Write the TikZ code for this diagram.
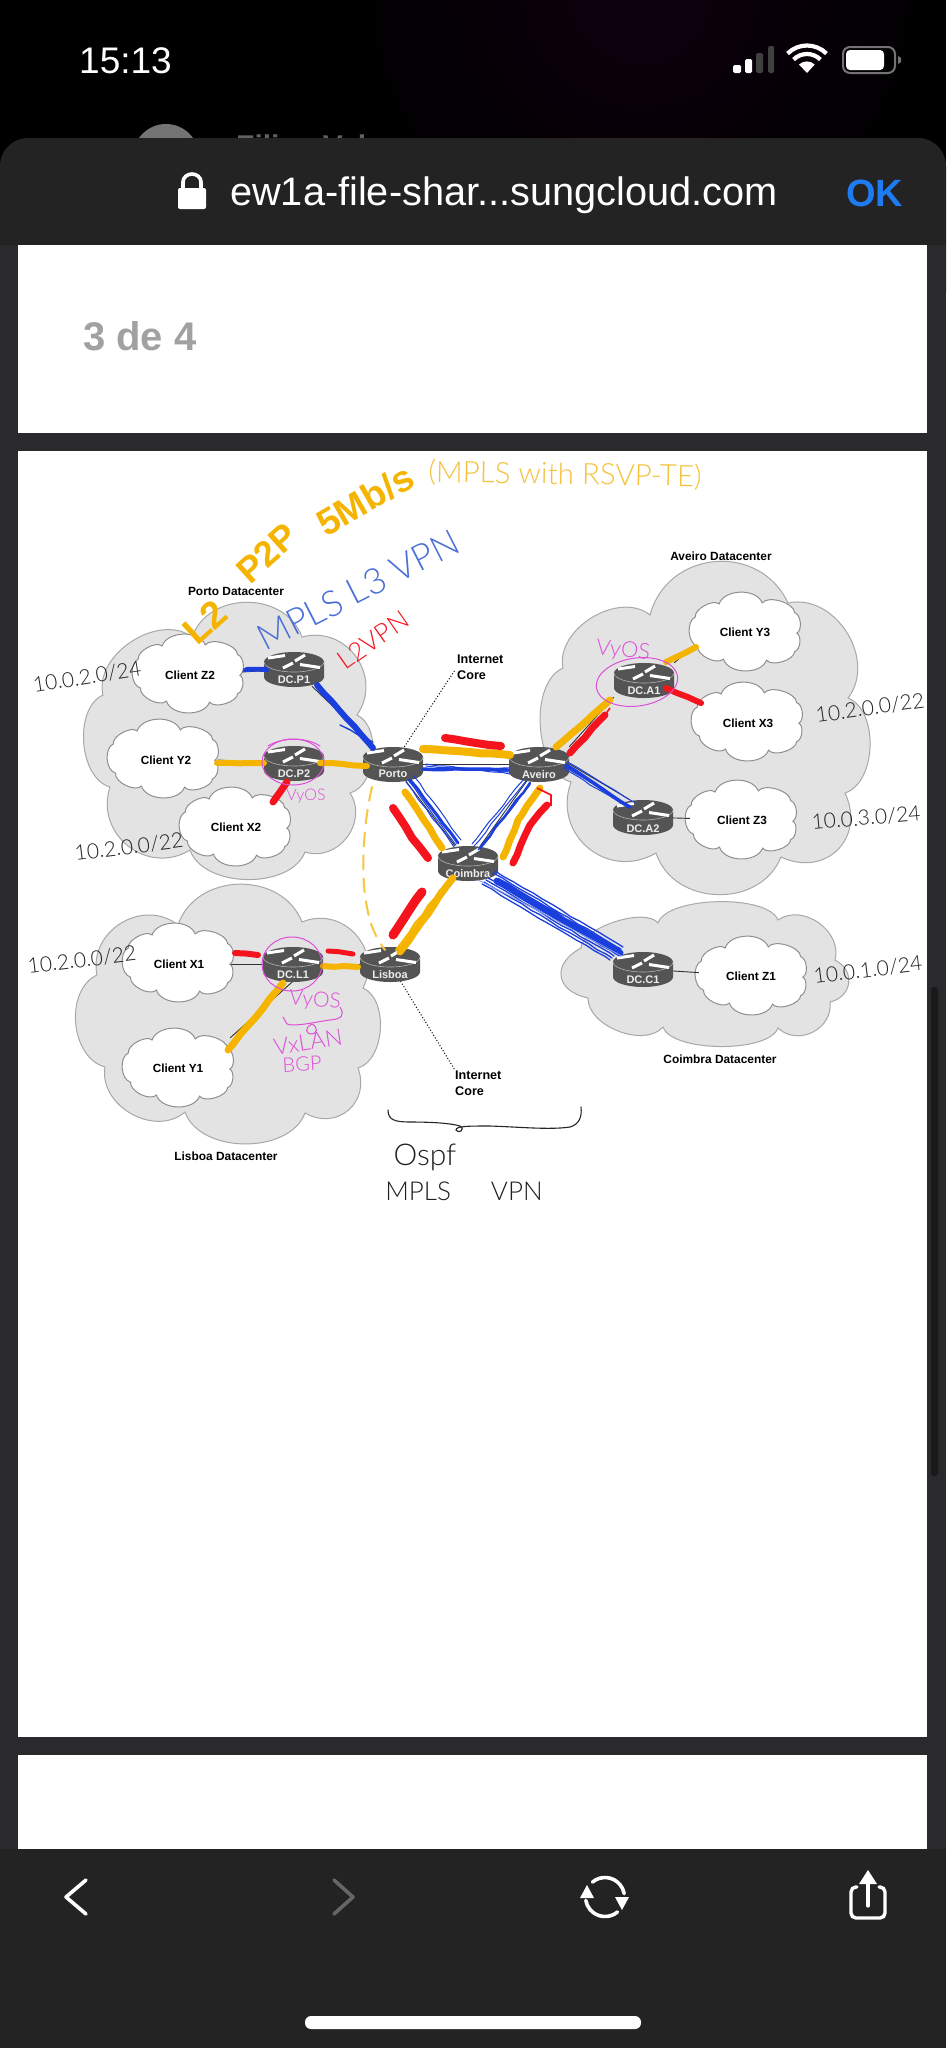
\documentclass[tikz,border=0pt]{standalone}
\usepackage{fontspec}
\setmainfont{Liberation Sans}
\newfontfamily\handfont{Lato Light}
\usetikzlibrary{decorations.pathmorphing,calc}
\definecolor{sheetbody}{HTML}{2A2A2C}
\definecolor{toolbarc}{HTML}{232324}
\definecolor{cloudfill}{HTML}{E3E3E3}
\definecolor{cloudedge}{HTML}{A8A8A8}
\definecolor{rtrdark}{HTML}{545454}
\definecolor{hlorange}{HTML}{F4B400}
\definecolor{hlred}{HTML}{F5141E}
\definecolor{hlblue}{HTML}{1B3FDC}
\definecolor{mag}{HTML}{DD4FD8}
\definecolor{txtorange}{HTML}{F6C23E}
\definecolor{txtblue}{HTML}{4A6FD8}
\definecolor{iosblue}{HTML}{1E7CF0}
\tikzset{
  lb/.style={bend left=70,looseness=#1},
  bigcloud/.style={fill=cloudfill,draw=cloudedge,line width=1},
  smallcloud/.style={fill=white,draw=cloudedge!85!black,line width=1},
  clientnode/.style={font=\fontsize{11.8}{14}\selectfont\bfseries,minimum width=104,minimum height=60,inner sep=0},
  dclabel/.style={font=\fontsize{11.9}{14}\selectfont\bfseries,inner sep=0},
  inetlabel/.style={font=\fontsize{12.6}{16.5}\selectfont\bfseries,align=left,anchor=west,inner sep=0},
  rnode/.style={minimum width=60,minimum height=34,inner sep=0},
  rlabel/.style={font=\fontsize{11}{12}\selectfont\bfseries,text=white!93!black,inner sep=0},
  thinlink/.style={draw=black!80,line width=.9},
  dottedlink/.style={draw=black,line width=1,dotted},
  wob/.style={decorate,decoration={random steps,segment length=11,amplitude=.7},line cap=round,line join=round},
  ost/.style={draw=hlorange,line width=#1,wob},
  rst/.style={draw=hlred,line width=#1,wob},
  bst/.style={draw=hlblue,line width=#1,wob},
  hand/.style={font=\handfont\fontsize{#1}{#1}\selectfont,inner sep=0},
  ip/.style={hand=21,text=black!88},
  magtxt/.style={hand=#1,text=mag},
  magline/.style={draw=mag,line width=1,line cap=round},
  iconw/.style={draw=white,line width=3.6,line cap=round,line join=round},
  clientcloud/.pic={
    \path[smallcloud,scale=1.08] (-24,-25) to[lb=.95] (16,-26) to[lb=.75] (46,-17) to[lb=.8] (48,2)
      to[lb=.8] (46,19) to[lb=.75] (20,27) to[lb=.95] (-20,26) to[lb=.8] (-44,14)
      to[lb=.9] (-46,-13) to[lb=.75] (-24,-25) -- cycle;
  },
  routerpic/.pic={
    \fill[rtrdark] (-30,-7) -- (-30,8) arc[start angle=180,end angle=0,x radius=30,y radius=10]
      -- (30,-7) arc[start angle=0,end angle=-180,x radius=30,y radius=10] -- cycle;
    \draw[white!70!black,line width=.6] (-30,-7) arc[start angle=180,end angle=0,x radius=30,y radius=10];
    \draw[white,line width=3] (-26,-11) -- (-9,-13.5);
    \draw[white,line width=3] (1,-8) -- (11,-14);
    \draw[white,line width=3] (-11,-1) -- (-1,-6);
    \draw[white,line width=3] (6,-4.5) -- (26,-1.5);
  }
}
\pgfmathsetseed{7}
\begin{document}
\begin{tikzpicture}[x=1pt,y=-1pt]
\useasboundingbox (0,0) rectangle (946,2048);
% --- phone chrome
\fill[black] (0,0) rectangle (946,2048);
\begin{scope}
  \clip (0,0) rectangle (946,138);
  \shade[inner color=black!80!violet!55!black,outer color=black] (640,-10) circle[radius=300];
  \fill[white!45!black] (166,157) circle[radius=33];
  \node[anchor=base west,inner sep=0,text=white!38!black,font=\fontsize{30}{30}\selectfont\bfseries] (peer) at (236,156) {Filipe Vale};
\end{scope}
\fill[toolbarc,rounded corners=28] (0,320) -- (0,138) -- (946,138) -- (946,320) -- cycle;
\fill[sheetbody] (0,245) rectangle (946,1849);
\fill[toolbarc] (0,1849) rectangle (946,2048);
\fill[black!90!white,rounded corners=3] (931,987) rectangle (938,1476);
\fill[white] (18,245) rectangle (927,433);
\fill[white] (18,451) rectangle (927,1737);
\fill[white] (18,1755) rectangle (927,1849);
\node[anchor=base west,inner sep=0,text=white,font=\fontsize{37}{37}\selectfont] (clock) at (79,73.5) {15:13};
\fill[white,rounded corners=1.5] (733,65) rectangle (741,73);
\fill[white,rounded corners=1.5] (745,59) rectangle (752,73);
\fill[white!25!black,rounded corners=1.5] (756,53) rectangle (763,73);
\fill[white!25!black,rounded corners=1.5] (768,46) rectangle (774,73);
\fill[white] (807,73) -- (799,64.5) arc[start angle=-133,end angle=-47,radius=11.5] -- cycle;
\draw[white,line width=4.2] ($(807,73)+(-135:19)$) arc[start angle=-135,end angle=-45,radius=19];
\draw[white,line width=4.2] ($(807,73)+(-135:27.5)$) arc[start angle=-135,end angle=-45,radius=27.5];
\draw[white!45!black,line width=2,rounded corners=7] (843,47) rectangle (895,73);
\fill[white,rounded corners=4] (846,50) rectangle (884,70);
\fill[white!45!black] (898,56) -- (901,58) -- (901,62) -- (898,64) -- cycle;
\fill[white,rounded corners=2] (178,188) rectangle (206,209);
\draw[white,line width=3.6] (183,190) -- (183,182) arc[start angle=180,end angle=360,x radius=9,y radius=8] -- (201,190);
\node[anchor=base west,inner sep=0,text=white,font=\fontsize{39.7}{38}\selectfont] (url) at (230,205) {ew1a-file-shar...sungcloud.com};
\node[anchor=base west,inner sep=0,text=iosblue,font=\fontsize{38}{39}\selectfont\bfseries] (okbtn) at (846,206) {OK};
\node[anchor=base west,inner sep=0,text=white!63!black,font=\fontsize{40}{39}\selectfont\bfseries] (pageno) at (83,350) {3 de 4};
% toolbar icons
\draw[iconw] (86,1880) -- (66,1897) -- (86,1914);
\draw[iconw,draw=white!40!black] (334,1880) -- (353,1897) -- (334,1914);
\draw[iconw] ($(605,1897)+(-130:19.5)$) arc[start angle=-130,end angle=-10,radius=19.5];
\draw[iconw] ($(605,1897)+(50:19.5)$) arc[start angle=50,end angle=170,radius=19.5];
\fill[white] (580,1898) -- (594,1898) -- (587,1885) -- cycle;
\fill[white] (615,1897) -- (629,1897) -- (622,1910) -- cycle;
\draw[white,line width=3.4,rounded corners=5,line cap=round] (857,1887) -- (851,1887) -- (851,1918) -- (885,1918) -- (885,1887) -- (879,1887);
\draw[white,line width=3.2,line cap=round] (868,1878) -- (868,1906);
\fill[white] (859,1884) -- (868,1870) -- (877,1884) -- cycle;
\fill[white,rounded corners=6] (305,2016) rectangle (641,2029);
% --- datacenter clouds
\path[bigcloud] (192,637) to[lb=1.15] (302,637) to[lb=1.25] (357,715) to[lb=.9] (350,793)
  to[lb=1.2] (305,852) to[lb=.9] (190,850) to[lb=1.25] (110,787) to[lb=.9] (103,695) to[lb=1] (192,637) -- cycle;
\path[bigcloud] (650,615) to[lb=1.25] (788,603) to[lb=1.1] (848,698) to[lb=.9] (845,793)
  to[lb=1.4] (781,857) to[lb=1.15] (656,853) to[lb=1.3] (571,782) to[lb=.85] (563,668) to[lb=1] (650,615) -- cycle;
\path[bigcloud] (178,925) to[lb=1.15] (302,922) to[lb=1.25] (363,988) to[lb=.9] (358,1068)
  to[lb=1.35] (305,1113) to[lb=.95] (185,1112) to[lb=1.1] (105,1067) to[lb=1] (97,975) to[lb=1.2] (178,925) -- cycle;
\path[bigcloud] (658,923) to[lb=.6] (778,920) to[lb=1.1] (835,960) to[lb=1.4] (830,1002)
  to[lb=1.2] (778,1028) to[lb=.6] (663,1027) to[lb=.9] (588,998) to[lb=1.7] (581,948) to[lb=.65] (658,923) -- cycle;
% --- client clouds
\pic at (188,673) {clientcloud};
\pic at (163,758) {clientcloud};
\pic at (235,826) {clientcloud};
\pic at (745,631) {clientcloud};
\pic at (747,721) {clientcloud};
\pic at (741,819) {clientcloud};
\pic at (751,975) {clientcloud};
\pic at (178,962) {clientcloud};
\pic at (178,1067) {clientcloud};
\node[clientnode] (cz2) at (190,675) {Client Z2};
\node[clientnode] (cy2) at (166,760) {Client Y2};
\node[clientnode] (cx2) at (236,827) {Client X2};
\node[clientnode] (cy3) at (745,632) {Client Y3};
\node[clientnode] (cx3) at (748,723) {Client X3};
\node[clientnode] (cz3) at (742,820) {Client Z3};
\node[clientnode] (cz1) at (751,976) {Client Z1};
\node[clientnode] (cx1) at (179,964) {Client X1};
\node[clientnode] (cy1) at (178,1068) {Client Y1};
% --- datacenter labels
\node[dclabel] (lblp) at (236,591) {Porto Datacenter};
\node[dclabel] (lbla) at (721,556) {Aveiro Datacenter};
\node[dclabel] (lbll) at (226,1156) {Lisboa Datacenter};
\node[dclabel] (lblc) at (720,1059) {Coimbra Datacenter};
\node[inetlabel] (inet1) at (457,667) {Internet\\Core};
\node[inetlabel] (inet2) at (455,1083) {Internet\\Core};
% --- router anchors
\node[rnode] (dcp1) at (294,669) {};
\node[rnode] (dcp2) at (294,763) {};
\node[rnode] (porto) at (393,764) {};
\node[rnode] (aveiro) at (539,764) {};
\node[rnode] (coimbra) at (468,863) {};
\node[rnode] (dca1) at (644,680) {};
\node[rnode] (dca2) at (643,817) {};
\node[rnode] (dcc1) at (643,969) {};
\node[rnode] (dcl1) at (293,964) {};
\node[rnode] (lisboa) at (390,964) {};
% --- thin links
\foreach \a/\b in {cz2/dcp1,dcp1/porto,dcp2/porto,porto/aveiro,porto/coimbra,aveiro/coimbra,coimbra/lisboa,coimbra/dcc1,dca2/cz3,dcc1/cz1,dcl1/cx1,dcl1/lisboa}
  \draw[thinlink] (\a) -- (\b);
\draw[thinlink] (cy2.east) -- (dcp2.west);
\draw[thinlink] ([xshift=-8]dcp2.south) -- ([xshift=37]cx2.north);
\draw[thinlink] (aveiro.north east) -- (dca1.south west);
\draw[thinlink] (aveiro.east) -- ([xshift=-13]dca2.north);
\draw[thinlink] (dca1.north east) -- ([yshift=15]cy3.south west);
\draw[thinlink] ([yshift=8]dca1.south east) -- ([yshift=-10]cx3.north west);
\draw[thinlink] (dcl1.south) -- (cy1.north east);
\draw[dottedlink,shorten >=3] (porto) -- (inet1.west);
\draw[dottedlink] (lisboa) -- (inet2.north west);
% --- routers
\foreach \n in {dcp1,dcp2,porto,aveiro,coimbra,dca1,dca2,dcc1,dcl1,lisboa}
  \pic at (\n) {routerpic};
\node[rlabel] (lp1) at ([yshift=-11]dcp1) {DC.P1};
\node[rlabel] (lp2) at ([yshift=-11]dcp2) {DC.P2};
\node[rlabel] (lpo) at ([yshift=-10]porto) {Porto};
\node[rlabel] (lav) at ([yshift=-11]aveiro) {Aveiro};
\node[rlabel] (lco) at ([yshift=-11]coimbra) {Coimbra};
\node[rlabel] (la1) at ([yshift=-11]dca1) {DC.A1};
\node[rlabel] (la2) at ([yshift=-12]dca2) {DC.A2};
\node[rlabel] (lc1) at ([yshift=-11]dcc1) {DC.C1};
\node[rlabel] (ll1) at ([yshift=-11]dcl1) {DC.L1};
\node[rlabel] (lli) at ([yshift=-11]lisboa) {Lisboa};
% --- orange highlights
\draw[ost=6] (217,763) -- (264,763);
\draw[ost=6] (320,763) -- (367,766);
\draw[ost=8] (423,749) -- (470,752) -- (510,755);
\draw[ost=7] (405,792) -- (442,848);
\draw[ost=7] (540,788) -- (518,820) -- (503,857);
\draw[ost=7] (453,878) -- (400,952);
\draw[ost=2] (396,950) -- (440,890);
\draw[ost=6] (323,966) -- (358,967);
\draw[ost=7] (283,983) -- (228,1050);
\draw[ost=7] (556,747) -- (610,700);
\draw[ost=6] (666,662) -- (696,647);
\draw[hlorange!75!white,line width=2,dash pattern=on 14 off 9,line cap=round]
  (372,787) .. controls (362,830) and (361,880) .. (367,907) .. controls (370,925) and (376,938) .. (385,950);
% --- red highlights
\draw[rst=8] (445,738) -- (501,746);
\draw[rst=8] (393,808) -- (412,838) -- (428,858);
\draw[rst=7] (547,805) -- (530,825) -- (513,863);
\draw[hlred,line width=1.6] (537,788) -- (551,795) -- (551,806);
\draw[rst=9] (422,892) -- (393,935);
\draw[rst=7] (287,782) -- (273,802);
\draw[rst=7] (570,753) -- (605,715);
\draw[hlred,line width=1.6] (605,715) -- (610,708);
\draw[rst=6] (666,688) -- (701,703);
\draw[rst=6] (235,953) -- (258,955);
\draw[rst=5] (328,951) -- (353,954);
% --- blue highlights
\draw[bst=4] (245,670) -- (267,670);
\draw[bst=2] (246,668) -- (267,668);
\draw[bst=6] (317,685) -- (373,748);
\draw[bst=1.4] (340,725) -- (373,742);
\draw[bst=3.5] (423,769) -- (508,770);
\foreach \d in {-4,-2,2}
  \draw[bst=1] (426,768+\d) -- (510,770-\d);
\draw[bst=3] (410,780) -- (458,843);
\foreach \d in {-4,-2,3}
  \draw[bst=1] (410+\d,778-\d) -- (458+\d,843-\d);
\draw[bst=2.5] (530,783) -- (480,848);
\foreach \d in {-4,-2,2}
  \draw[bst=1] (528+\d,783+\d) -- (476+\d,848+\d);
\draw[bst=7] (497,881) -- (620,953);
\foreach \d in {-8,-6,-4,-2,3,5}
  \draw[bst=1.3] (490+\d,876-\d) -- (618+\d,952-\d);
\draw[hlblue!50!white,line width=.8] (478,880) .. controls (530,905) and (600,945) .. (622,956);
\draw[bst=3.5] (566,765) -- (630,807);
\foreach \d in {-3,-1.5,2.5}
  \draw[bst=1] (566+\d,765-\d) -- (632+\d,805-\d);
% --- magenta notes
\draw[magline] (293,762) ellipse[x radius=31,y radius=23];
\draw[magline] (268,746) .. controls (280,738) and (305,736) .. (320,746);
\draw[magline] (637,682) ellipse[x radius=41,y radius=24,rotate=8];
\draw[magline] (292,964) ellipse[x radius=30,y radius=27];
\node[magtxt=16] (v1) at (306,796) {VyOS};
\node[magtxt=22,rotate=-6] (v2) at (623,651) {VyOS};
\node[magtxt=21,rotate=-4] (v3) at (315,1001) {VyOS};
\node[magtxt=23,rotate=9] (v4) at (308,1042) {VxLAN};
\node[magtxt=20,rotate=3] (v5) at (302,1064) {BGP};
\draw[magline] (340,1007) .. controls (345,1015) and (342,1019) .. (330,1020) .. controls (315,1022) and (295,1027) .. (287,1024) -- (283,1017);
\draw[magline] (312,1024) .. controls (304,1028) and (306,1034) .. (311,1034) .. controls (318,1034) and (318,1027) .. (312,1024);
% --- handwritten notes
\node[hand=38,text=hlorange,font=\bfseries\fontsize{38}{38}\selectfont,rotate=42] (h1) at (205,622) {L2};
\node[hand=36,text=hlorange,font=\bfseries\fontsize{36}{36}\selectfont,rotate=42] (h2) at (267,553) {P2P};
\node[hand=37,text=hlorange,font=\bfseries\fontsize{37}{37}\selectfont,rotate=30] (h3) at (365,500) {5Mb/s};
\node[hand=29.5,text=txtorange,rotate=-1] (h4) at (565,475) {(MPLS with RSVP-TE)};
\node[hand=36,text=txtblue,rotate=27] (h5) at (358,590) {MPLS L3 VPN};
\node[hand=26,text=hlred,rotate=35] (h6) at (373,640) {L2VPN};
\node[ip,rotate=9] (ip1) at (87,677) {10.0.2.0/24};
\node[ip,rotate=7] (ip2) at (129,847) {10.2.0.0/22};
\node[ip,rotate=8] (ip3) at (870,708) {10.2.0.0/22};
\node[ip,rotate=5] (ip4) at (866,818) {10.0.3.0/24};
\node[ip,rotate=7] (ip5) at (868,970) {10.0.1.0/24};
\node[ip,rotate=7] (ip6) at (82,960) {10.2.0.0/22};
\draw[black!85,line width=1.1,line cap=round] (388,1110) .. controls (388,1120) and (395,1122) .. (410,1122) .. controls (430,1122) and (450,1123) .. (460,1126) .. controls (466,1130) and (458,1134) .. (456,1130) .. controls (456,1126) and (468,1126) .. (490,1126) .. controls (520,1127) and (550,1130) .. (570,1127) .. controls (580,1124) and (582,1116) .. (581,1107);
\node[hand=30,text=black!88] (osp) at (425,1157) {Ospf};
\node[hand=26,text=black!88] (mvpn) at (464,1191) {MPLS\hspace{40pt}VPN};
\end{tikzpicture}
\end{document}
